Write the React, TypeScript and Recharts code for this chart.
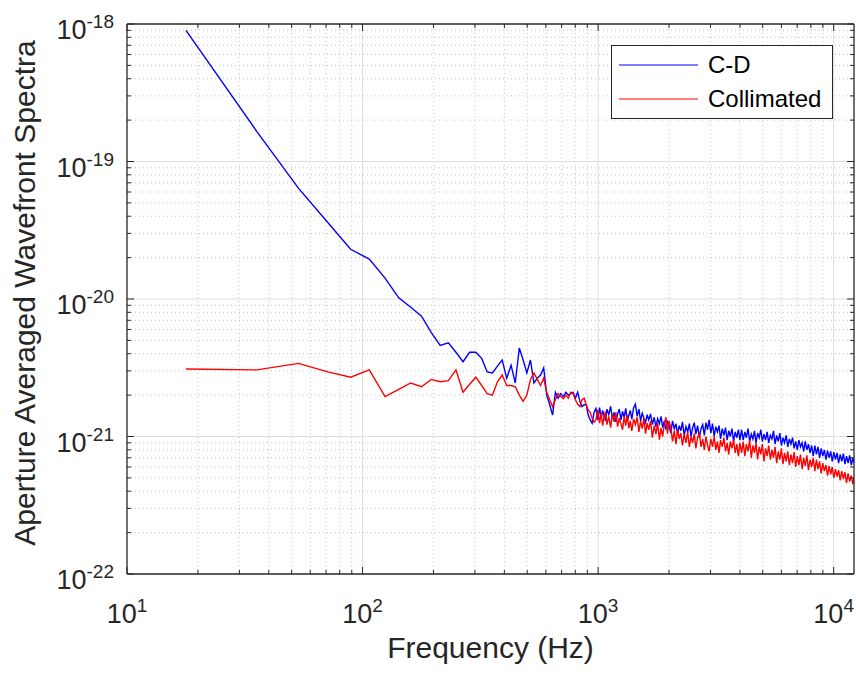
import { LineChart, Line, XAxis, YAxis, ReferenceLine, Legend } from 'recharts';

// frequency bins (Hz): FFT bins below 1 kHz, then the dense band up to Nyquist
const freq = [
  17.8, 35.6, 53.4, 71.2, 89, 106.8, 124.6, 142.4, 160.2, 178, 195.8, 213.6, 231.4, 249.2,
  267, 284.8, 302.6, 320.4, 338.2, 356, 373.8, 391.6, 409.4, 427.2, 445, 462.8, 480.6, 498.4,
  516.2, 534, 551.8, 569.6, 587.4, 605.2, 623, 640.8, 658.6, 676.4, 694.2, 712, 729.8, 747.6,
  765.4, 783.2, 801, 818.8, 836.6, 854.4, 872.2, 890, 907.8, 925.6, 943.4, 961.2, 979, 996.8,
  1015, 1030, 1045, 1060, 1075, 1090, 1110, 1130, 1150, 1170, 1190, 1210, 1230, 1250, 1270,
  1290, 1310, 1330, 1350, 1370, 1390, 1415, 1440, 1465, 1490, 1515, 1540, 1565, 1590, 1615,
  1640, 1670, 1700, 1730, 1760, 1790, 1820, 1850, 1880, 1910, 1940, 1970, 2000,
  2035, 2070, 2105, 2140, 2175, 2210, 2245, 2280, 2320, 2360, 2400, 2440, 2480, 2520, 2560,
  2600, 2645, 2690, 2735, 2780, 2825, 2870, 2915, 2960, 3010, 3060, 3110, 3160, 3210, 3260,
  3310, 3365, 3420, 3475, 3530, 3585, 3640, 3700, 3760, 3820, 3880, 3940, 4000,
  4065, 4130, 4195, 4260, 4330, 4400, 4470, 4540, 4610, 4680, 4755, 4830, 4905, 4980, 5060,
  5140, 5220, 5300, 5385, 5470, 5555, 5640, 5730, 5820, 5910, 6000, 6095, 6190, 6285, 6385,
  6485, 6585, 6690, 6795, 6900, 7010, 7120, 7230, 7345, 7460, 7575, 7695, 7815, 7940, 8065,
  8190, 8320, 8450, 8580, 8715, 8850, 8990, 9130, 9275, 9420, 9565, 9715, 9865, 10020, 10175,
  10335, 10495, 10660, 10825, 10995, 11165, 11340, 11515, 11695, 11880, 12065, 12200,
];

// spectra in units of 1e-21
const cdSpectrum = [
  900, 165, 64, 36, 23, 19.5, 14.2, 10.2, 8.7, 7.5, 5.7, 4.6, 4.8, 4.1,
  3.5, 4.1, 4.1, 3.7, 2.95, 2.9, 3.25, 3.6, 2.65, 3.3, 2.45, 4.4, 3.6, 2.9,
  3.6, 2.45, 2.65, 2.8, 3.15, 2.0, 1.7, 1.43, 2.1, 1.9, 2.05, 1.95, 2.1, 2.0,
  2.05, 2.1, 1.9, 2.1, 1.8, 1.65, 1.7, 1.7, 1.43, 1.32, 1.25, 1.5, 1.6, 1.32,
  1.62, 1.36, 1.55, 1.40, 1.30, 1.58, 1.44, 1.66, 1.34, 1.50, 1.28, 1.46, 1.58, 1.32, 1.52,
  1.38, 1.60, 1.30, 1.42, 1.55, 1.34, 1.62, 1.72, 1.40, 1.58, 1.30, 1.48, 1.36, 1.26, 1.44,
  1.32, 1.46, 1.22, 1.38, 1.18, 1.35, 1.24, 1.40, 1.16, 1.30, 1.12, 1.28, 1.20,
  1.06, 1.30, 1.14, 1.24, 1.04, 1.20, 1.10, 1.28, 1.02, 1.18, 1.08, 1.24, 1.00, 1.16, 1.26,
  1.04, 1.20, 0.98, 1.14, 1.22, 1.02, 1.26, 1.12, 1.32, 1.06, 1.24, 1.00, 1.18, 1.08, 1.20,
  0.96, 1.14, 1.02, 1.16, 0.94, 1.10, 1.00, 1.14, 0.92, 1.08, 0.98, 1.12, 0.94,
  1.12, 0.94, 1.08, 0.98, 1.14, 0.92, 1.04, 0.96, 1.10, 0.90, 1.06, 0.98, 1.12, 0.92, 1.04,
  0.94, 1.08, 0.90, 1.02, 0.96, 1.10, 0.88, 1.02, 0.92, 1.06, 0.86, 0.98, 0.90, 1.02, 0.84,
  0.96, 0.88, 0.98, 0.82, 0.92, 0.80, 0.94, 0.84, 0.90, 0.78, 0.92, 0.80, 0.88, 0.76, 0.86,
  0.72, 0.86, 0.74, 0.84, 0.70, 0.82, 0.72, 0.80, 0.68, 0.79, 0.70, 0.78, 0.66, 0.77, 0.68,
  0.76, 0.64, 0.74, 0.66, 0.75, 0.63, 0.72, 0.64, 0.73, 0.62, 0.70, 0.64,
];

const collimatedSpectrum = [
  3.1, 3.05, 3.4, 2.95, 2.7, 3.05, 1.95, 2.2, 2.45, 2.3, 2.6, 2.5, 2.55, 3.05,
  2.1, 2.4, 2.7, 2.35, 2.05, 2.0, 2.5, 2.8, 2.35, 2.35, 2.3, 2.0, 1.8, 2.0,
  2.6, 2.9, 2.6, 2.35, 2.65, 2.1, 1.85, 1.65, 1.85, 2.05, 1.95, 1.88, 2.0, 1.9,
  2.1, 2.05, 1.85, 1.72, 1.65, 1.85, 1.9, 1.7, 1.56, 1.5, 1.36, 1.27, 1.32, 1.56,
  1.25, 1.48, 1.20, 1.38, 1.52, 1.22, 1.40, 1.16, 1.45, 1.28, 1.50, 1.18, 1.36, 1.24, 1.12,
  1.40, 1.20, 1.44, 1.15, 1.30, 1.10, 1.34, 1.22, 1.38, 1.08, 1.30, 1.14, 1.36, 1.05, 1.25,
  1.12, 1.30, 0.98, 1.20, 1.04, 1.25, 0.95, 1.15, 1.00, 1.22, 1.38, 1.05, 1.30,
  1.16, 0.92, 1.10, 0.88, 1.12, 0.96, 1.06, 0.86, 1.04, 0.90, 1.08, 0.84, 1.00, 0.90, 1.05,
  0.82, 0.98, 1.06, 0.84, 0.96, 0.80, 1.00, 0.86, 0.78, 0.96, 0.84, 1.00, 0.80, 0.92, 0.76,
  0.94, 0.84, 0.98, 0.78, 0.90, 0.74, 0.92, 0.82, 0.95, 0.76, 0.88, 0.72, 0.90,
  0.76, 0.92, 0.72, 0.88, 0.78, 0.94, 0.70, 0.86, 0.76, 0.90, 0.68, 0.84, 0.74, 0.88, 0.66,
  0.82, 0.72, 0.86, 0.68, 0.80, 0.70, 0.84, 0.64, 0.78, 0.68, 0.82, 0.63, 0.76, 0.66, 0.78,
  0.62, 0.74, 0.64, 0.77, 0.60, 0.72, 0.62, 0.74, 0.58, 0.70, 0.61, 0.73, 0.57, 0.68, 0.60,
  0.70, 0.56, 0.68, 0.58, 0.66, 0.54, 0.64, 0.56, 0.62, 0.52, 0.61, 0.53, 0.60, 0.50, 0.58,
  0.51, 0.57, 0.48, 0.56, 0.49, 0.55, 0.46, 0.54, 0.47, 0.52, 0.45, 0.50,
];

const UNIT_EXP = -21;

const xMajor = [10, 100, 1000, 10000];
const xMinor = [
  20, 30, 40, 50, 60, 70, 80, 90,
  200, 300, 400, 500, 600, 700, 800, 900,
  2000, 3000, 4000, 5000, 6000, 7000, 8000, 9000,
];
const yMajor = [0.1, 1, 10, 100, 1000];
const yMinor = [
  0.2, 0.3, 0.4, 0.5, 0.6, 0.7, 0.8, 0.9,
  2, 3, 4, 5, 6, 7, 8, 9,
  20, 30, 40, 50, 60, 70, 80, 90,
  200, 300, 400, 500, 600, 700, 800, 900,
];

const data = freq.map((f, i) => ({ f, cd: cdSpectrum[i], coll: collimatedSpectrum[i] }));

const FONT = "'Liberation Sans', Arial, Helvetica, sans-serif";
const AXIS = '#262626';
const BLUE = '#0000ff';
const RED = '#ff0000';

const isMajor = (v: number) => Math.abs(Math.log10(v) - Math.round(Math.log10(v))) < 1e-6;
const tickLen = (v: number) => (isMajor(v) ? 7 : 4);

const BottomTick = ({ x, y, payload }: any) => (
  <g>
    <line x1={x} x2={x} y1={y} y2={y - tickLen(payload.value)} stroke={AXIS} />
    {isMajor(payload.value) && (
      <text x={x} y={y + 49} textAnchor="middle" fontSize={27} fill={AXIS} fontFamily={FONT}>
        10
        <tspan dy={-11} fontSize={19}>
          {Math.round(Math.log10(payload.value))}
        </tspan>
      </text>
    )}
  </g>
);

const TopTick = ({ x, y, payload }: any) => (
  <line x1={x} x2={x} y1={y} y2={y + tickLen(payload.value)} stroke={AXIS} />
);

const LeftTick = ({ x, y, payload }: any) => (
  <g>
    <line x1={x} x2={x + tickLen(payload.value)} y1={y} y2={y} stroke={AXIS} />
    {isMajor(payload.value) && (
      <text x={x - 13} y={y + 15} textAnchor="end" fontSize={27} fill={AXIS} fontFamily={FONT}>
        10
        <tspan dy={-11} fontSize={19}>
          {Math.round(Math.log10(payload.value)) + UNIT_EXP}
        </tspan>
      </text>
    )}
  </g>
);

const RightTick = ({ x, y, payload }: any) => (
  <line x1={x} x2={x - tickLen(payload.value)} y1={y} y2={y} stroke={AXIS} />
);

const YTitle = ({ viewBox }: any) => (
  <text
    transform={`translate(35, ${viewBox.y + viewBox.height / 2 - 6}) rotate(-90)`}
    textAnchor="middle"
    fontSize={30}
    fill={AXIS}
    fontFamily={FONT}
  >
    Aperture Averaged Wavefront Spectra
  </text>
);

const LegendBox = () => (
  <svg width={222} height={74} style={{ display: 'block' }}>
    <rect x={0.5} y={0.5} width={221} height={73} fill="#fff" stroke={AXIS} />
    <line x1={8} x2={87} y1={20} y2={20} stroke={BLUE} />
    <text x={97} y={28} fontSize={24} fill="#000" fontFamily={FONT}>C-D</text>
    <line x1={8} x2={87} y1={54} y2={54} stroke={RED} />
    <text x={97} y={62} fontSize={24} fill="#000" fontFamily={FONT}>Collimated</text>
  </svg>
);

export default function App() {
  const allX = [...xMajor, ...xMinor].sort((a, b) => a - b);
  const allY = [...yMajor, ...yMinor].sort((a, b) => a - b);
  return (
    <div style={{ position: 'absolute', left: 0, top: 0, width: 856, height: 677, background: '#fff' }}>
      <LineChart width={856} height={677} data={data} margin={{ top: 0, right: 0, bottom: 0, left: 0 }}>
        {xMinor.map((v) => (
          <ReferenceLine key={`xm${v}`} x={v} stroke="#c4c4c4" strokeDasharray="1 3" />
        ))}
        {yMinor.map((v) => (
          <ReferenceLine key={`ym${v}`} y={v} stroke="#c4c4c4" strokeDasharray="1 3" />
        ))}
        {xMajor.slice(1).map((v) => (
          <ReferenceLine key={`xM${v}`} x={v} stroke="#dedede" />
        ))}
        {yMajor.slice(1, -1).map((v) => (
          <ReferenceLine key={`yM${v}`} y={v} stroke="#dedede" />
        ))}
        <XAxis
          dataKey="f"
          type="number"
          scale="log"
          domain={[10, 12200]}
          allowDataOverflow
          ticks={allX}
          interval={0}
          height={103}
          tickSize={0}
          tickMargin={0}
          tickLine={false}
          tick={<BottomTick />}
          axisLine={{ stroke: AXIS, strokeWidth: 1.3 }}
          label={{
            value: 'Frequency (Hz)',
            position: 'insideBottom',
            offset: 19,
            fill: AXIS,
            fontSize: 30,
            fontFamily: FONT,
          }}
        />
        <XAxis
          xAxisId="top"
          orientation="top"
          dataKey="f"
          type="number"
          scale="log"
          domain={[10, 12200]}
          allowDataOverflow
          ticks={allX}
          interval={0}
          height={24}
          tickSize={0}
          tickMargin={0}
          tickLine={false}
          tick={<TopTick />}
          axisLine={{ stroke: AXIS, strokeWidth: 1.3 }}
        />
        <YAxis
          type="number"
          scale="log"
          domain={[0.1, 1000]}
          allowDataOverflow
          ticks={allY}
          interval={0}
          width={127}
          tickSize={0}
          tickMargin={0}
          tickLine={false}
          tick={<LeftTick />}
          axisLine={{ stroke: AXIS, strokeWidth: 1.3 }}
          label={{ content: <YTitle /> }}
        />
        <YAxis
          yAxisId="right"
          orientation="right"
          type="number"
          scale="log"
          domain={[0.1, 1000]}
          allowDataOverflow
          ticks={allY}
          interval={0}
          width={2}
          tickSize={0}
          tickMargin={0}
          tickLine={false}
          tick={<RightTick />}
          axisLine={{ stroke: AXIS, strokeWidth: 1.3 }}
        />
        <Line
          type="linear"
          dataKey="cd"
          name="C-D"
          stroke={BLUE}
          strokeWidth={1.4}
          dot={false}
          isAnimationActive={false}
        />
        <Line
          type="linear"
          dataKey="coll"
          name="Collimated"
          stroke={RED}
          strokeWidth={1.4}
          dot={false}
          isAnimationActive={false}
        />
        <Legend
          layout="vertical"
          align="center"
          verticalAlign="middle"
          wrapperStyle={{ left: 611, top: 45, width: 222, height: 74 }}
          content={() => <LegendBox />}
        />
      </LineChart>
    </div>
  );
}
